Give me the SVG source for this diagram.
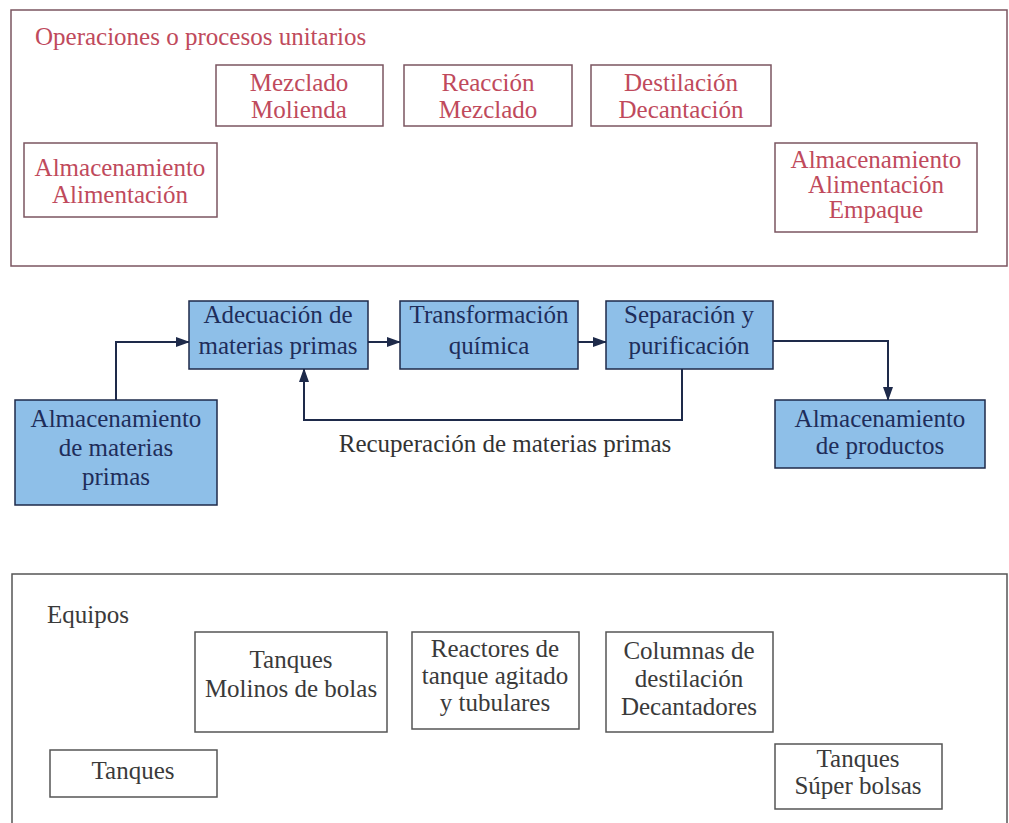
<svg xmlns="http://www.w3.org/2000/svg" width="1009" height="823" viewBox="0 0 1009 823" font-family="'Liberation Serif', 'DejaVu Serif', serif">
<style>
text{font-family:"Liberation Serif","DejaVu Serif",serif;font-size:25px;text-anchor:middle}
.top rect{fill:none;stroke:#7b5560;stroke-width:1.5}
.top text{fill:#c04a5c}
.mid rect{fill:#8ebfe8;stroke:#1e2a4a;stroke-width:1.5}
.mid text{fill:#1e2d5a}
.bot rect{fill:none;stroke:#555;stroke-width:1.5}
.bot text{fill:#3a3a3a}
.frame{fill:none;stroke-width:1.5}
.conn{fill:none;stroke:#1e2a4a;stroke-width:2}
</style>
<defs>
<marker id="ah" markerWidth="14" markerHeight="10" refX="13" refY="5" orient="auto" markerUnits="userSpaceOnUse">
<path d="M0,0 L14,5 L0,10 z" fill="#1e2a4a"/>
</marker>
</defs>
<rect width="1009" height="823" fill="#fff"/>

<g id="top-section" class="top">
<rect class="frame" x="11" y="10" width="996" height="256"/>
<text x="35" y="45" style="text-anchor:start">Operaciones o procesos unitarios</text>
<g id="op-mezclado"><rect x="216" y="65" width="167" height="61"/><text x="299" y="91">Mezclado</text><text x="299" y="118">Molienda</text></g>
<g id="op-reaccion"><rect x="404" y="65" width="168" height="61"/><text x="488" y="91">Reacción</text><text x="488" y="118">Mezclado</text></g>
<g id="op-destilacion"><rect x="591" y="65" width="180" height="61"/><text x="681" y="91">Destilación</text><text x="681" y="118">Decantación</text></g>
<g id="op-alm1"><rect x="24" y="143" width="193" height="74"/><text x="120" y="176">Almacenamiento</text><text x="120" y="203">Alimentación</text></g>
<g id="op-alm2"><rect x="775" y="143" width="202" height="89"/><text x="876" y="168">Almacenamiento</text><text x="876" y="193">Alimentación</text><text x="876" y="218">Empaque</text></g>
</g>

<g id="connectors">
<polyline class="conn" points="116,400 116,342 189,342" marker-end="url(#ah)"/>
<line class="conn" x1="368" y1="342" x2="400" y2="342" marker-end="url(#ah)"/>
<line class="conn" x1="578" y1="342" x2="606" y2="342" marker-end="url(#ah)"/>
<polyline class="conn" points="773,341 888,341 888,400" marker-end="url(#ah)"/>
<polyline class="conn" points="682,369 682,420 304,420 304,369" marker-end="url(#ah)"/>
<text x="505" y="452" style="fill:#333">Recuperación de materias primas</text>
</g>

<g class="mid">
<g id="adecuacion"><rect x="189" y="301" width="179" height="68"/><text x="278" y="323">Adecuación de</text><text x="278" y="354">materias primas</text></g>
<g id="transformacion"><rect x="400" y="301" width="178" height="68"/><text x="489" y="323">Transformación</text><text x="489" y="354">química</text></g>
<g id="separacion"><rect x="606" y="301" width="167" height="68"/><text x="689" y="323">Separación y</text><text x="689" y="354">purificación</text></g>
<g id="alm-materias"><rect x="15" y="400" width="202" height="105"/><text x="116" y="427">Almacenamiento</text><text x="116" y="456">de materias</text><text x="116" y="485">primas</text></g>
<g id="alm-productos"><rect x="775" y="400" width="210" height="68"/><text x="880" y="427">Almacenamiento</text><text x="880" y="454">de productos</text></g>
</g>

<g id="bottom-section" class="bot">
<rect class="frame" x="12" y="574" width="995" height="260"/>
<text x="47" y="623" style="text-anchor:start">Equipos</text>
<g id="eq-tanques-molinos"><rect x="195" y="632" width="192" height="100"/><text x="291" y="668">Tanques</text><text x="291" y="697">Molinos de bolas</text></g>
<g id="eq-reactores"><rect x="412" y="632" width="167" height="97"/><text x="495" y="657">Reactores de</text><text x="495" y="684">tanque agitado</text><text x="495" y="711">y tubulares</text></g>
<g id="eq-columnas"><rect x="606" y="632" width="167" height="100"/><text x="689" y="659">Columnas de</text><text x="689" y="687">destilación</text><text x="689" y="715">Decantadores</text></g>
<g id="eq-tanques"><rect x="50" y="750" width="167" height="47"/><text x="133" y="779">Tanques</text></g>
<g id="eq-tanques-bolsas"><rect x="775" y="744" width="167" height="65"/><text x="858" y="767">Tanques</text><text x="858" y="794">Súper bolsas</text></g>
</g>
</svg>
